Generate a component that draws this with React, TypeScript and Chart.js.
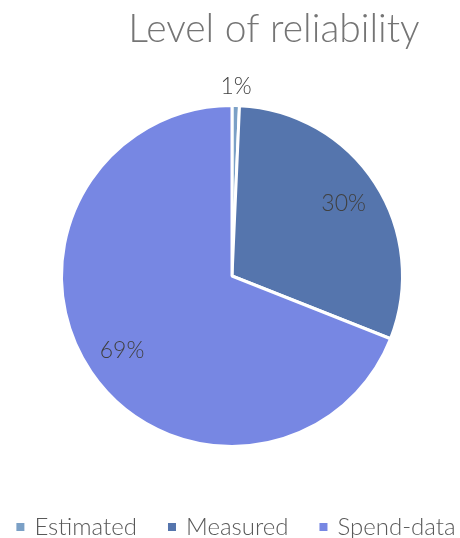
import React, { useEffect, useRef } from "react";
import { Chart, registerables } from "chart.js";

Chart.register(...registerables);

const categories = ["Estimated", "Measured", "Spend-data"];
const values = [0.7, 30.3, 69.0];
const valueLabels = ["1%", "30%", "69%"];
const colors = ["#7BA0C6", "#5575AD", "#7787E3"];
const titleText = "Level of reliability";

const FONT = "Lato, 'Open Sans', sans-serif";

const labelPlugin = {
  id: "sliceLabels",
  afterDatasetsDraw(chart: any) {
    const ctx = chart.ctx;
    const meta = chart.getDatasetMeta(0);
    const total = values.reduce((a, b) => a + b, 0);
    ctx.save();
    ctx.font = `300 23px ${FONT}`;
    ctx.fillStyle = "#404040";
    ctx.textAlign = "center";
    ctx.textBaseline = "middle";
    meta.data.forEach((arc: any, i: number) => {
      const { x, y, startAngle, endAngle, outerRadius } = arc.getProps(
        ["x", "y", "startAngle", "endAngle", "outerRadius"],
        true
      );
      const mid = (startAngle + endAngle) / 2;
      const frac = values[i] / total;
      const r = frac < 0.05 ? outerRadius * 1.11 : outerRadius * 0.78;
      ctx.fillText(valueLabels[i], x + Math.cos(mid) * r, y + Math.sin(mid) * r);
    });
    ctx.restore();
  },
};

const titlePlugin = {
  id: "customTitle",
  afterDraw(chart: any) {
    const ctx = chart.ctx;
    ctx.save();
    ctx.font = `300 39px ${FONT}`;
    ctx.fillStyle = "#757575";
    ctx.textAlign = "center";
    ctx.textBaseline = "alphabetic";
    ctx.fillText(titleText, 274, 42);
    ctx.restore();
  },
};

const legendPlugin = {
  id: "customLegend",
  afterDraw(chart: any) {
    const ctx = chart.ctx;
    ctx.save();
    ctx.font = `300 24px ${FONT}`;
    ctx.textBaseline = "middle";
    ctx.textAlign = "left";
    const y = 527;
    const widths = categories.map((c) => ctx.measureText(c).width);
    const box = 8;
    const gapBoxText = 10;
    const gapItems = 31;
    const total =
      widths.reduce((a, b) => a + b, 0) +
      categories.length * (box + gapBoxText) +
      (categories.length - 1) * gapItems;
    let x = 236 - total / 2;
    categories.forEach((c, i) => {
      ctx.fillStyle = colors[i];
      ctx.fillRect(x, y - box / 2, box, box);
      x += box + gapBoxText;
      ctx.fillStyle = "#595959";
      ctx.fillText(c, x, y);
      x += widths[i] + gapItems;
    });
    ctx.restore();
  },
};

export default function App() {
  const ref = useRef<HTMLCanvasElement | null>(null);
  useEffect(() => {
    document.body.style.margin = "0";
    const chart = new Chart(ref.current as HTMLCanvasElement, {
      type: "pie",
      data: {
        labels: categories,
        datasets: [
          {
            data: values,
            backgroundColor: colors,
            borderColor: "#ffffff",
            borderWidth: 3,
          },
        ],
      },
      options: {
        animation: false,
        responsive: false,
        maintainAspectRatio: false,
        layout: { padding: { top: 104, left: 60, right: 56, bottom: 90 } },
        plugins: {
          title: { display: false },
          tooltip: { enabled: false },
          legend: { display: false },
        },
      },
      plugins: [labelPlugin, titlePlugin, legendPlugin],
    });
    return () => chart.destroy();
  }, []);
  return (
    <div style={{ position: "absolute", left: 0, top: 0, width: 460, height: 538 }}>
      <canvas ref={ref} width={460} height={538} style={{ width: 460, height: 538 }} />
    </div>
  );
}
